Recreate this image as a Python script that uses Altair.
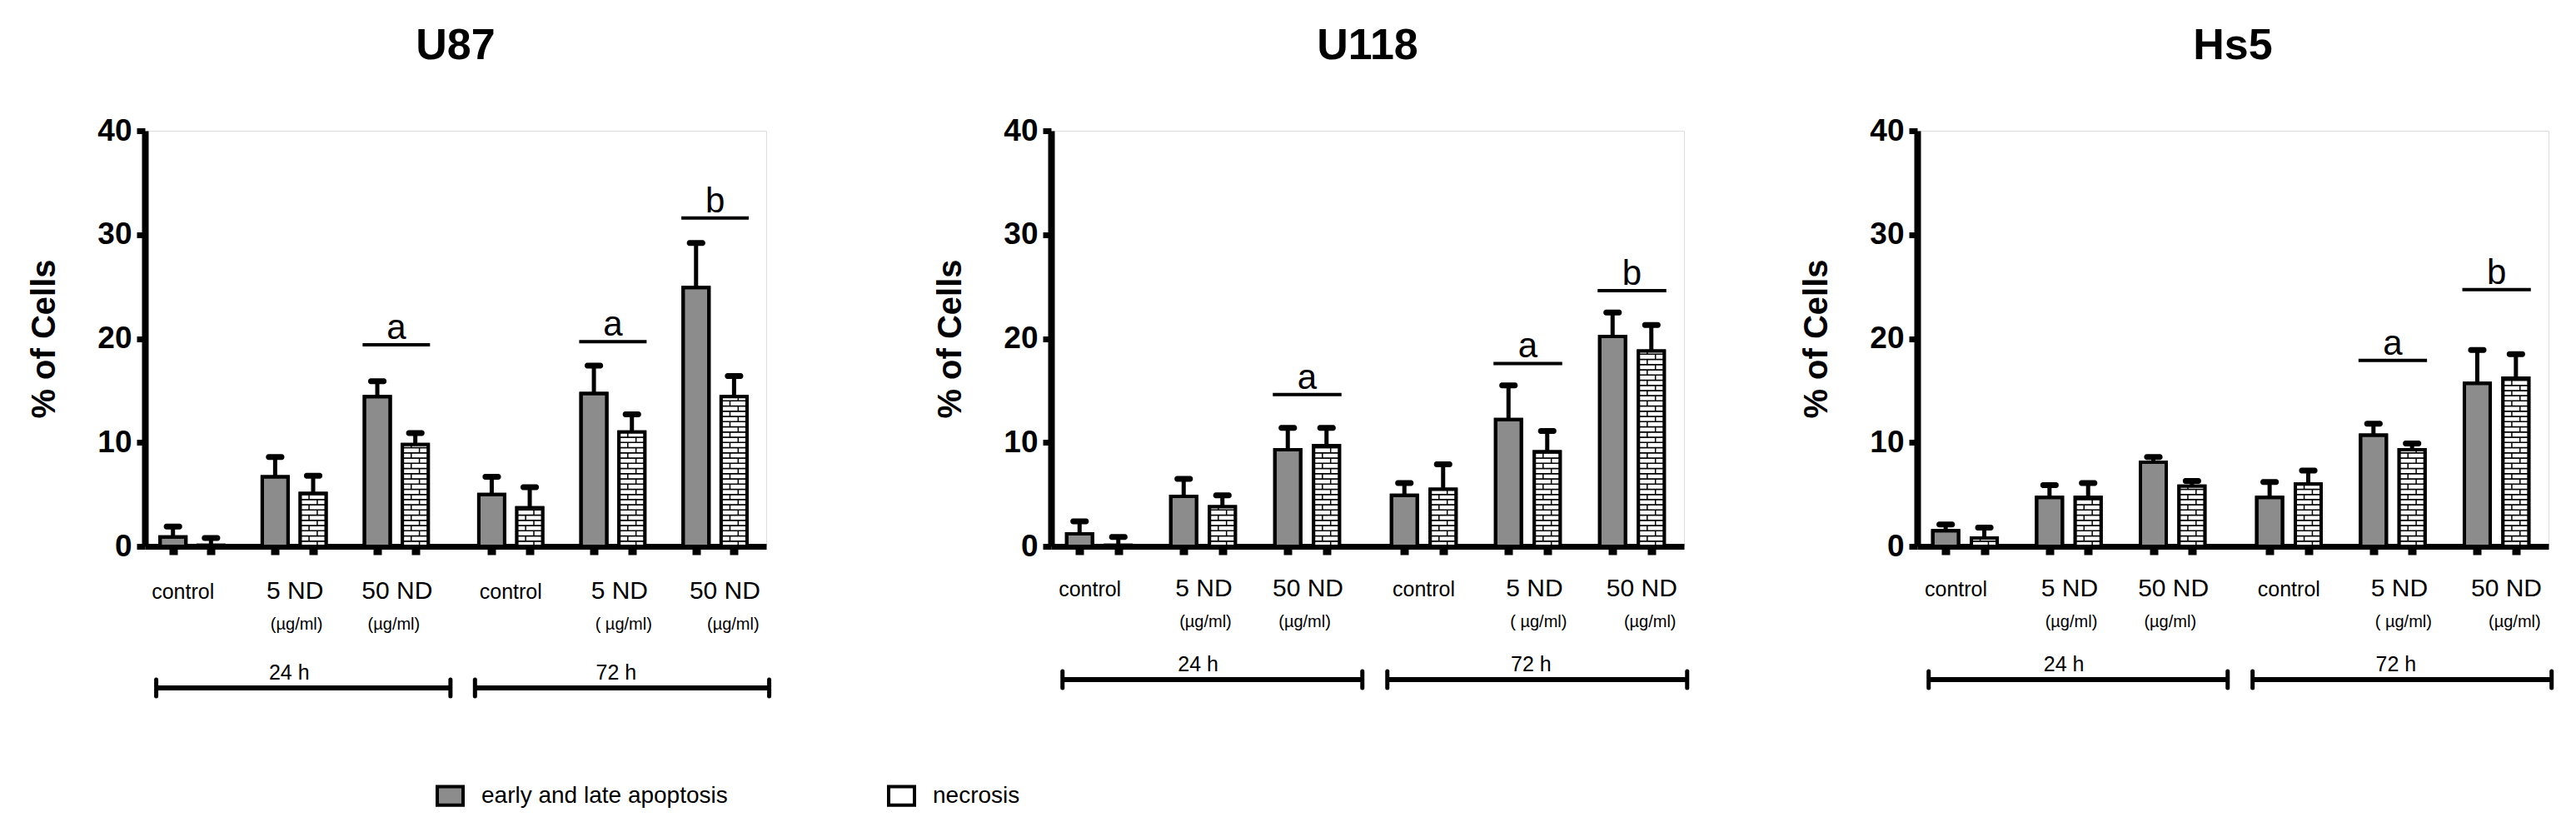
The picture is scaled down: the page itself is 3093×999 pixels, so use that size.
import altair as alt
import pandas as pd

FONT = "Liberation Sans"

# ---------------- data ----------------
cell_lines = ["U87", "U118", "Hs5"]
group_names = ["control", "5 ND", "50 ND", "control", "5 ND", "50 ND"]
dose_units = ["", "(µg/ml)", "(µg/ml)", "", "( µg/ml)", "(µg/ml)"]
time_names = ["24 h", "72 h"]
series_names = ["early and late apoptosis", "necrosis"]

u87_apop = [0.9, 6.7, 14.4, 5.0, 14.7, 24.9]
u87_apop_hi = [1.9, 8.6, 15.9, 6.7, 17.4, 29.2]
u87_necr = [0.1, 5.1, 9.8, 3.7, 11.0, 14.4]
u87_necr_hi = [0.8, 6.8, 10.9, 5.7, 12.7, 16.4]

u118_apop = [1.2, 4.8, 9.3, 4.9, 12.2, 20.2]
u118_apop_hi = [2.4, 6.5, 11.4, 6.1, 15.5, 22.5]
u118_necr = [0.1, 3.8, 9.7, 5.5, 9.1, 18.8]
u118_necr_hi = [0.9, 4.9, 11.4, 7.9, 11.1, 21.3]

hs5_apop = [1.5, 4.7, 8.1, 4.7, 10.7, 15.7]
hs5_apop_hi = [2.1, 5.9, 8.6, 6.2, 11.8, 18.9]
hs5_necr = [0.8, 4.7, 5.8, 6.0, 9.3, 16.2]
hs5_necr_hi = [1.8, 6.1, 6.3, 7.3, 9.9, 18.5]

u87_sig_groups = [2, 4, 5]
u87_sig_levels = [19.4, 19.7, 31.6]
u87_sig_letters = ["a", "a", "b"]

u118_sig_groups = [2, 4, 5]
u118_sig_levels = [14.6, 17.6, 24.6]
u118_sig_letters = ["a", "a", "b"]

hs5_sig_groups = [4, 5]
hs5_sig_levels = [17.9, 24.7]
hs5_sig_letters = ["a", "b"]

# ---------------- layout ----------------
FIRST = 0.42
TIME_GAP = 0.12
PAIR = 0.186
XMAX = 6.0
H = 499
BAR = 31
BRICK = 0.5
JOINT_PX = 5
label_dx_px = [-11, 1, 1, 0, 8, 12]
unit_dx_px = [0, 3, -3, 0, 13, 22]
time_dx_px = [-6, 4]


def centers():
    return [i + FIRST + (TIME_GAP if i >= 3 else 0) for i in range(6)]


C = centers()
tick_vals = sorted([c - PAIR for c in C] + [c + PAIR for c in C])

xscale = alt.Scale(domain=[0, XMAX], nice=False, zero=False)
yscale = alt.Scale(domain=[0, 40], nice=False)

xaxis = alt.Axis(values=tick_vals, labels=False, title=None, grid=False,
                 domainColor="black", domainWidth=7, tickColor="black",
                 tickWidth=10, tickSize=10)
yaxis = alt.Axis(values=[0, 10, 20, 30, 40], title="% of Cells", titleFont=FONT,
                 titleFontSize=40, titleFontWeight="bold", titleColor="black",
                 titlePadding=43, labelFont=FONT, labelFontSize=37,
                 labelFontWeight="bold", labelColor="black", labelPadding=6,
                 labelFlush=False, labelOverlap=False,
                 tickColor="black", tickWidth=7, tickSize=10,
                 domainColor="black", domainWidth=8, grid=False)


def X(field="x"):
    return alt.X(field + ":Q", scale=xscale, axis=xaxis)


def Y(field="y"):
    return alt.Y(field + ":Q", scale=yscale, axis=yaxis, stack=None)


legend = alt.Legend(orient="none", legendX=349, legendY=781, direction="horizontal",
                    title=None, symbolType="M-1,-0.72L1,-0.72L1,0.72L-1,0.72Z",
                    symbolSize=961, symbolStrokeColor="black", symbolStrokeWidth=4,
                    symbolOpacity=1, labelFont=FONT, labelFontSize=28, labelLimit=600,
                    labelColor="black", labelOffset=20, columnPadding=185)


def panel(title, apop, apop_hi, necr, necr_hi, sig_g, sig_v, sig_t, width,
          lift_lbl, lift_time):
    px = width / XMAX
    rows = []
    for i in range(6):
        rows.append({"x": C[i] - PAIR, "y": apop[i], "y2": apop_hi[i], "s": series_names[0]})
        rows.append({"x": C[i] + PAIR, "y": necr[i], "y2": necr_hi[i], "s": series_names[1]})
    bars_df = pd.DataFrame(rows)

    seg_rows, joint_rows = [], []
    for i in range(6):
        xc = C[i] + PAIR
        v = necr[i]
        lo, k = 0.0, 0
        while lo < v - 1e-9:
            hi = min(lo + BRICK, v)
            seg_rows.append({"x": xc, "y": lo, "y2": hi})
            off = (JOINT_PX if k % 2 == 0 else -JOINT_PX) / px
            joint_rows.append({"x": xc + off, "y": lo, "y2": hi})
            lo, k = hi, k + 1
    seg_df = pd.DataFrame(seg_rows)
    joint_df = pd.DataFrame(joint_rows)

    sig_df = pd.DataFrame({"x": [C[g] - 0.33 for g in sig_g],
                           "x2": [C[g] + 0.33 for g in sig_g],
                           "xc": [C[g] for g in sig_g],
                           "y": sig_v, "t": sig_t})

    ctrl_df = pd.DataFrame({"x": [C[i] + label_dx_px[i] / px for i in range(6) if group_names[i] == "control"],
                            "t": [g for g in group_names if g == "control"]})
    nd_df = pd.DataFrame({"x": [C[i] + label_dx_px[i] / px for i in range(6) if group_names[i] != "control"],
                          "t": [g for g in group_names if g != "control"]})
    unit_df = pd.DataFrame({"x": [C[i] + unit_dx_px[i] / px for i in range(6) if dose_units[i]],
                            "t": [u for u in dose_units if u]})
    time_df = pd.DataFrame({"x": [C[1] + time_dx_px[0] / px, C[4] + time_dx_px[1] / px],
                            "t": time_names})
    br_df = pd.DataFrame({"x": [C[0] - 0.35, C[3] - 0.35], "x2": [C[2] + 0.53, C[5] + 0.53]})
    brcap_df = pd.DataFrame({"x": [C[0] - 0.35, C[2] + 0.53, C[3] - 0.35, C[5] + 0.53]})

    base = alt.Chart(bars_df)
    bars = base.mark_bar(size=BAR, stroke="black", strokeWidth=4, opacity=1).encode(
        x=X(), y=Y(),
        color=alt.Color("s:N", scale=alt.Scale(domain=series_names, range=["#8c8c8c", "#ffffff"]),
                        legend=legend))
    segs = alt.Chart(seg_df).mark_bar(size=BAR, fill="white", stroke="black",
                                      strokeWidth=1.5, opacity=1).encode(
        x=X(), y=Y(), y2="y2:Q")
    joints = alt.Chart(joint_df).mark_rule(color="black", strokeWidth=1.5).encode(
        x=X(), y=Y(), y2="y2:Q")
    outline = base.mark_bar(size=BAR, fillOpacity=0, stroke="black", strokeWidth=4).encode(
        x=X(), y=Y())
    stems = base.mark_rule(color="black", strokeWidth=5).encode(x=X(), y=Y(), y2="y2:Q")
    caps = base.mark_tick(orient="horizontal", size=22, thickness=7, color="black",
                          opacity=1, cornerRadius=3).encode(x=X(), y=Y("y2"))

    sig_lines = alt.Chart(sig_df).mark_rule(color="black", strokeWidth=4).encode(
        x=X(), x2="x2:Q", y=Y())
    sig_text = alt.Chart(sig_df).mark_text(font=FONT, fontSize=42, color="black",
                                           baseline="alphabetic", dy=-7).encode(
        x=X("xc"), y=Y(), text="t:N")

    ctrl_text = alt.Chart(ctrl_df).mark_text(font=FONT, fontSize=25, color="black",
                                             baseline="alphabetic").encode(
        x=X(), y=alt.value(H + 63 - lift_lbl), text="t:N")
    nd_text = alt.Chart(nd_df).mark_text(font=FONT, fontSize=30, color="black",
                                         baseline="alphabetic").encode(
        x=X(), y=alt.value(H + 63 - lift_lbl), text="t:N")
    unit_text = alt.Chart(unit_df).mark_text(font=FONT, fontSize=20, color="black",
                                             baseline="middle").encode(
        x=X(), y=alt.value(H + 94 - lift_lbl), text="t:N")
    time_text = alt.Chart(time_df).mark_text(font=FONT, fontSize=25, color="black",
                                             baseline="middle").encode(
        x=X(), y=alt.value(H + 152 - lift_time), text="t:N")
    br = alt.Chart(br_df).mark_rule(color="black", strokeWidth=6).encode(
        x=X(), x2="x2:Q", y=alt.value(H + 170 - lift_time))
    brcap = alt.Chart(brcap_df).mark_rule(color="black", strokeWidth=5, strokeCap="round").encode(
        x=X(), y=alt.value(H + 160 - lift_time), y2=alt.value(H + 180 - lift_time))

    return alt.layer(bars, segs, joints, outline, stems, caps, sig_lines, sig_text,
                     ctrl_text, nd_text, unit_text, time_text, br, brcap).properties(
        width=width, height=H,
        title=alt.TitleParams(text=title, font=FONT, fontSize=52, fontWeight="bold",
                              color="black", anchor="middle", frame="group",
                              offset=15, baseline="alphabetic"))


p1 = panel(cell_lines[0], u87_apop, u87_apop_hi, u87_necr, u87_necr_hi,
           u87_sig_groups, u87_sig_levels, u87_sig_letters, 746, 0, 0)
p2 = panel(cell_lines[1], u118_apop, u118_apop_hi, u118_necr, u118_necr_hi,
           u118_sig_groups, u118_sig_levels, u118_sig_letters, 760, 3, 10)
p3 = panel(cell_lines[2], hs5_apop, hs5_apop_hi, hs5_necr, hs5_necr_hi,
           hs5_sig_groups, hs5_sig_levels, hs5_sig_letters, 758, 3, 10)

chart = alt.hconcat(alt.hconcat(p1, p2, spacing=193), p3, spacing=131).properties(
    padding={"left": 25, "top": 20, "right": 0, "bottom": 0}
).configure_view(stroke=None).configure(font=FONT)

chart.save("out.html", embed_options={"renderer": "svg", "actions": False})
